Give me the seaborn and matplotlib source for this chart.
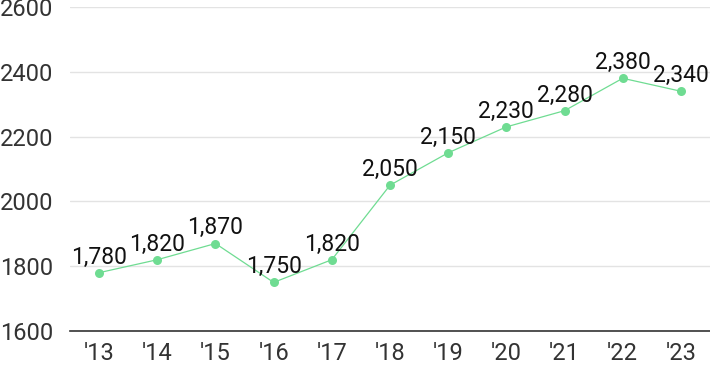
import seaborn as sns
import matplotlib.pyplot as plt
import pandas as pd

# Datos del gráfico
years = ["'13", "'14", "'15", "'16", "'17", "'18", "'19", "'20", "'21", "'22", "'23"]
values = [1780, 1820, 1870, 1750, 1820, 2050, 2150, 2230, 2280, 2380, 2340]
y_ticks = [1600, 1800, 2000, 2200, 2400, 2600]

green = '#6fdc92'

sns.set_style("white")
plt.rcParams['font.family'] = ['Roboto', 'DejaVu Sans']

df = pd.DataFrame({'year': years, 'value': values})

fig = plt.figure(figsize=(7.1, 3.71), dpi=100)
ax = fig.add_axes([70 / 710, 1 - 331 / 371, 640 / 710, 324 / 371])

sns.lineplot(x='year', y='value', data=df, color=green, linewidth=0.9,
             marker='o', markersize=6.5, markeredgewidth=0, sort=False, ax=ax)

for i, v in enumerate(values):
    ax.annotate('{:,}'.format(v), (i, v), xytext=(0, 3), textcoords='offset points',
                ha='center', va='bottom', fontsize=16.5, color='#111111')

ax.set_xlim(-0.5, len(years) - 0.5)
ax.set_ylim(1600, 2600)
ax.set_yticks(y_ticks)
ax.yaxis.grid(True, color='#e3e3e3', linewidth=1)
ax.set_axisbelow(True)
ax.set_xlabel('')
ax.set_ylabel('')

for s in ['top', 'right', 'left']:
    ax.spines[s].set_visible(False)
ax.spines['bottom'].set_color('#333333')
ax.spines['bottom'].set_linewidth(1.2)

ax.tick_params(axis='both', length=0, labelsize=17, labelcolor='#333333')
ax.tick_params(axis='y', pad=50.4)
for lab in ax.get_yticklabels():
    lab.set_horizontalalignment('left')
ax.tick_params(axis='x', pad=8)

fig.savefig('out.png', dpi=100)
